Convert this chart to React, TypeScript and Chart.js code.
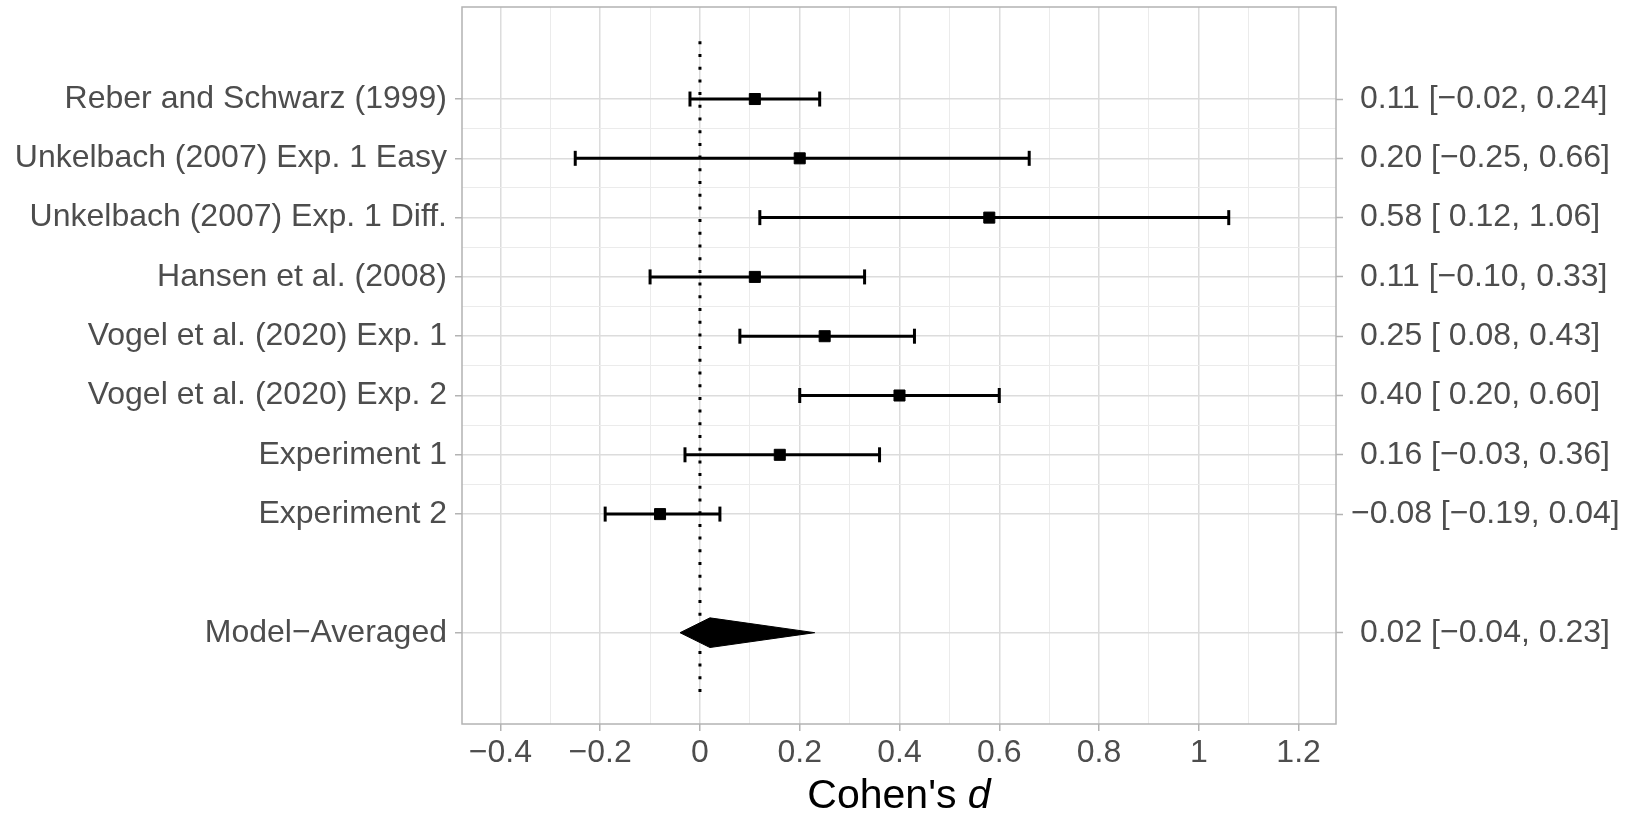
import React, { useEffect, useRef } from 'react';
import { Chart, registerables } from 'chart.js';

Chart.register(...registerables);

const FONT = '"Liberation Sans", Arial, Helvetica, sans-serif';

// ---- data ----
const studies = [
  'Reber and Schwarz (1999)',
  'Unkelbach (2007) Exp. 1 Easy',
  'Unkelbach (2007) Exp. 1 Diff.',
  'Hansen et al. (2008)',
  'Vogel et al. (2020) Exp. 1',
  'Vogel et al. (2020) Exp. 2',
  'Experiment 1',
  'Experiment 2',
];
const rowPositions = [10, 9, 8, 7, 6, 5, 4, 3];
const estimates = [0.11, 0.2, 0.58, 0.11, 0.25, 0.4, 0.16, -0.08];
const lowerCI = [-0.02, -0.25, 0.12, -0.1, 0.08, 0.2, -0.03, -0.19];
const upperCI = [0.24, 0.66, 1.06, 0.33, 0.43, 0.6, 0.36, 0.04];

const modelLabel = 'Model\u2212Averaged';
const modelRow = 1;
const modelEstimate = 0.02;
const modelLower = -0.04;
const modelUpper = 0.23;

const xMajorTicks = [-0.4, -0.2, 0, 0.2, 0.4, 0.6, 0.8, 1, 1.2];
const xMinorTicks = [-0.3, -0.1, 0.1, 0.3, 0.5, 0.7, 0.9, 1.1];
const yMinorTicks = [3.5, 4.5, 5.5, 6.5, 7.5, 8.5, 9.5];
const refLineY = [0, 11];

const X_MIN = -0.477;
const X_MAX = 1.275;
const Y_MIN = -0.54;
const Y_MAX = 11.552;
const DIAMOND_HALF = 0.25;

const MINUS = '\u2212';
const fmtPad = (v: number) => (v < 0 ? MINUS + Math.abs(v).toFixed(2) : ' ' + v.toFixed(2));
const fmt = (v: number) => (v < 0 ? MINUS + Math.abs(v).toFixed(2) : v.toFixed(2));
const ciLabel = (e: number, l: number, u: number) => `${fmtPad(e)} [${fmtPad(l)}, ${fmt(u)}]`;
const fmtX = (v: number) => {
  const r = Math.round(v * 10) / 10;
  if (r === 0) return '0';
  const s = String(Math.abs(r));
  return r < 0 ? MINUS + s : s;
};

const leftLabels: Record<string, string> = {};
const rightLabels: Record<string, string> = {};
studies.forEach((s, i) => {
  leftLabels[String(rowPositions[i])] = s;
  rightLabels[String(rowPositions[i])] = ciLabel(estimates[i], lowerCI[i], upperCI[i]);
});
leftLabels[String(modelRow)] = modelLabel;
rightLabels[String(modelRow)] = ciLabel(modelEstimate, modelLower, modelUpper);

const isMajorX = (v: number) => xMajorTicks.some((t) => Math.abs(t - v) < 1e-6);
const isMajorY = (v: number) => !yMinorTicks.some((t) => Math.abs(t - v) < 1e-6);

const GRID_MAJOR = '#dcdcdc';
const GRID_MINOR = '#ebebeb';
const AXIS_GREY = '#b3b3b3';
const LABEL_GREY = '#4d4d4d';
const TICK_SIZE = 32;

export default function App() {
  const ref = useRef<HTMLCanvasElement>(null);

  useEffect(() => {
    if (!ref.current) return;
    const xAll = [...xMajorTicks, ...xMinorTicks].sort((a, b) => a - b);
    const yAll = [modelRow, ...rowPositions, ...yMinorTicks].sort((a, b) => a - b);

    const datasets: any[] = [];
    // reference dotted line
    datasets.push({
      data: refLineY.map((y) => ({ x: 0, y })),
      borderColor: '#000',
      borderWidth: 3,
      borderDash: [3, 9.7],
      pointRadius: 0,
      order: 10,
    });
    // CI bars
    rowPositions.forEach((row, i) => {
      datasets.push({
        data: [
          { x: lowerCI[i], y: row },
          { x: upperCI[i], y: row },
        ],
        borderColor: '#000',
        borderWidth: 3,
        pointStyle: 'line',
        rotation: 90,
        pointRadius: 7.5,
        pointBorderWidth: 3,
        pointBorderColor: '#000',
        order: 5,
      });
    });
    // point estimates
    datasets.push({
      data: estimates.map((e, i) => ({ x: e, y: rowPositions[i] })),
      showLine: false,
      pointStyle: 'rect',
      pointRadius: 7.8,
      pointBackgroundColor: '#000',
      pointBorderColor: '#000',
      pointBorderWidth: 1,
      order: 1,
    });
    // model-averaged diamond
    datasets.push({
      data: [
        { x: modelLower, y: modelRow },
        { x: modelEstimate, y: modelRow + DIAMOND_HALF },
        { x: modelUpper, y: modelRow },
        { x: modelEstimate, y: modelRow - DIAMOND_HALF },
        { x: modelLower, y: modelRow },
      ],
      borderColor: '#000',
      borderWidth: 1,
      backgroundColor: '#000',
      fill: 'shape',
      pointRadius: 0,
      tension: 0,
      order: 1,
    });

    const panelPlugin = {
      id: 'panelDecor',
      afterDatasetsDraw(chart: any) {
        const { ctx, chartArea } = chart;
        ctx.save();
        ctx.strokeStyle = AXIS_GREY;
        ctx.lineWidth = 1.5;
        ctx.strokeRect(chartArea.left, chartArea.top, chartArea.right - chartArea.left, chartArea.bottom - chartArea.top);
        ctx.restore();
      },
      afterDraw(chart: any) {
        const { ctx, chartArea } = chart;
        ctx.save();
        ctx.fillStyle = '#000';
        ctx.textBaseline = 'alphabetic';
        const normal = `41px ${FONT}`;
        const italic = `italic 41px ${FONT}`;
        const t1 = "Cohen's ";
        const t2 = 'd';
        ctx.font = normal;
        const w1 = ctx.measureText(t1).width;
        ctx.font = italic;
        const w2 = ctx.measureText(t2).width;
        const cx = (chartArea.left + chartArea.right) / 2;
        const x0 = cx - (w1 + w2) / 2;
        const yb = 808;
        ctx.font = normal;
        ctx.textAlign = 'left';
        ctx.fillText(t1, x0, yb);
        ctx.font = italic;
        ctx.fillText(t2, x0 + w1, yb);
        ctx.restore();
      },
    };

    const gridColorX = (c: any) => (c.tick && isMajorX(c.tick.value) ? GRID_MAJOR : GRID_MINOR);
    const gridWidthX = (c: any) => (c.tick && isMajorX(c.tick.value) ? 1.5 : 1);
    const tickColorX = (c: any) => (c.tick && isMajorX(c.tick.value) ? AXIS_GREY : 'rgba(0,0,0,0)');
    const gridColorY = (c: any) => (c.tick && isMajorY(c.tick.value) ? GRID_MAJOR : GRID_MINOR);
    const gridWidthY = (c: any) => (c.tick && isMajorY(c.tick.value) ? 1.5 : 1);
    const tickColorY = (c: any) => (c.tick && isMajorY(c.tick.value) ? AXIS_GREY : 'rgba(0,0,0,0)');

    const zeroPad = (a: any) => {
      a.paddingTop = 0;
      a.paddingBottom = 0;
      a.paddingLeft = 0;
      a.paddingRight = 0;
    };

    const chart = new Chart(ref.current, {
      type: 'line',
      data: { datasets },
      plugins: [panelPlugin],
      options: {
        responsive: false,
        animation: false,
        events: [],
        layout: { autoPadding: false, padding: { top: 7, left: 0, right: 0, bottom: 0 } },
        plugins: {
          legend: { display: false },
          tooltip: { enabled: false },
          title: { display: false },
        },
        scales: {
          x: {
            type: 'linear',
            position: 'bottom',
            min: X_MIN,
            max: X_MAX,
            afterBuildTicks: (a: any) => {
              a.ticks = xAll.map((v) => ({ value: v }));
            },
            afterFit: (a: any) => {
              a.height = 107;
              zeroPad(a);
            },
            ticks: {
              autoSkip: false,
              maxRotation: 0,
              color: LABEL_GREY,
              padding: 3,
              font: { family: FONT, size: TICK_SIZE },
              callback: (v: any) => (isMajorX(Number(v)) ? fmtX(Number(v)) : ''),
            },
            grid: {
              color: gridColorX,
              lineWidth: gridWidthX,
              tickColor: tickColorX,
              tickWidth: 1.5,
              tickLength: 7,
            },
            border: { display: false },
          },
          y: {
            type: 'linear',
            position: 'left',
            min: Y_MIN,
            max: Y_MAX,
            afterBuildTicks: (a: any) => {
              a.ticks = yAll.map((v) => ({ value: v }));
            },
            afterFit: (a: any) => {
              a.width = 462;
              zeroPad(a);
            },
            ticks: {
              autoSkip: false,
              color: LABEL_GREY,
              padding: 8,
              font: { family: FONT, size: TICK_SIZE },
              callback: (v: any) => leftLabels[String(v)] ?? '',
            },
            grid: {
              color: gridColorY,
              lineWidth: gridWidthY,
              tickColor: tickColorY,
              tickWidth: 1.5,
              tickLength: 7,
            },
            border: { display: false },
          },
          y2: {
            type: 'linear',
            position: 'right',
            min: Y_MIN,
            max: Y_MAX,
            afterBuildTicks: (a: any) => {
              a.ticks = yAll.map((v) => ({ value: v }));
            },
            afterFit: (a: any) => {
              a.width = 1652 - 1336;
              zeroPad(a);
            },
            ticks: {
              autoSkip: false,
              color: LABEL_GREY,
              padding: 8,
              font: { family: FONT, size: TICK_SIZE },
              callback: (v: any) => rightLabels[String(v)] ?? '',
            },
            grid: {
              drawOnChartArea: false,
              tickColor: tickColorY,
              tickWidth: 1.5,
              tickLength: 7,
            },
            border: { display: false },
          },
        },
      } as any,
    });

    return () => chart.destroy();
  }, []);

  return (
    <div style={{ position: 'fixed', left: 0, top: 0, width: 1652, height: 831, background: '#fff' }}>
      <canvas ref={ref} width={1652} height={831} style={{ display: 'block', width: 1652, height: 831 }} />
    </div>
  );
}
